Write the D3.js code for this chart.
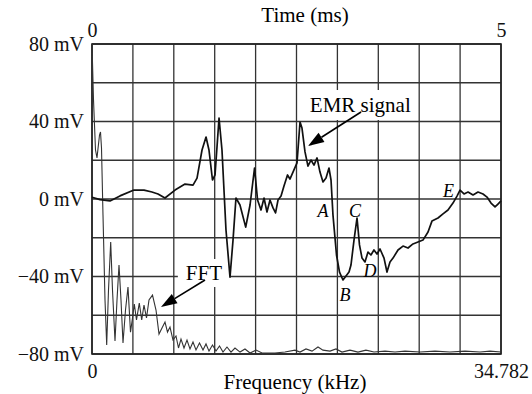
<!DOCTYPE html>
<html>
<head>
<meta charset="utf-8">
<script src="https://cdn.jsdelivr.net/npm/d3@7"></script>
<style>
body { margin: 0; background: #fff; }
svg { display: block; font-family: "Liberation Serif", "Times New Roman", serif; }
</style>
</head>
<body>
<svg id="chart" width="532" height="394"></svg>
<script>
"use strict";

// EMR signal: time (ms) and amplitude (mV)
const emrTime = [0, 0.098, 0.22, 0.342, 0.513, 0.636, 0.733, 0.807, 0.892, 1.015,
	1.137, 1.235, 1.284, 1.345, 1.394, 1.43, 1.473, 1.504, 1.553, 1.589,
	1.638, 1.687, 1.724, 1.76, 1.809, 1.879, 1.932, 1.987, 2.024, 2.066,
	2.103, 2.139, 2.176, 2.213, 2.244, 2.274, 2.311, 2.347, 2.39, 2.42,
	2.469, 2.506, 2.543, 2.567, 2.604, 2.64, 2.677, 2.714, 2.751, 2.787,
	2.824, 2.861, 2.897, 2.922, 2.946, 2.989, 3.026, 3.068, 3.105, 3.142,
	3.166, 3.203, 3.24, 3.27, 3.301, 3.337, 3.374, 3.41, 3.447, 3.484,
	3.521, 3.57, 3.606, 3.643, 3.68, 3.741, 3.802, 3.863, 3.924, 3.985,
	4.046, 4.108, 4.156, 4.23, 4.291, 4.352, 4.413, 4.462, 4.499, 4.548,
	4.597, 4.658, 4.719, 4.78, 4.829, 4.878, 4.927, 4.963, 5.0];
const emrMv = [0.9, -0.3, -1.0, 1.6, 4.6, 4.6, 3.6, 2.6, 0.5, 4.6,
	7.7, 7.2, 10.8, 25.3, 32.0, 25.3, 9.8, 12.4, 41.8, 25.3,
	-16.0, -40.3, -21.2, 0.5, -3.1, -14.5, -3.1, 16.0, -0.5, -5.7,
	0.5, -6.7, -0.5, -4.6, -7.2, -0.5, 1.5, 6.7, 12.4, 10.3,
	15.0, 18.6, 39.7, 36.6, 24.3, 17.0, 20.1, 17.5, 21.2, 13.9,
	8.8, 10.8, 16.0, 9.8, -8.3, -28.9, -37.7, -41.8, -39.7, -37.7,
	-34.1, -21.2, -9.8, -23.7, -30.5, -32.5, -27.4, -28.9, -26.3, -28.4,
	-25.8, -30.5, -37.7, -32.5, -30.5, -26.3, -24.3, -25.3, -23.2, -22.2,
	-21.2, -17.0, -11.4, -9.8, -7.7, -5.7, -2.1, 1.5, 4.6, 2.6,
	3.6, 2.1, 3.6, 2.6, 1.0, -2.1, -4.1, -2.6, -1.0];

// FFT spectrum: frequency (kHz) and amplitude on the same mV grid
const fftFreq = [0, 0.128, 0.298, 0.425, 0.638, 0.723, 0.808, 0.935, 1.106, 1.25,
	1.403, 1.59, 1.743, 1.956, 2.126, 2.296, 2.466, 2.636, 2.849, 3.061,
	3.274, 3.444, 3.597, 3.784, 4.022, 4.227, 4.422, 4.635, 4.847, 5.145,
	5.443, 5.698, 5.953, 6.208, 6.421, 6.633, 6.888, 7.143, 7.356, 7.569,
	7.824, 8.079, 8.334, 8.589, 8.844, 9.142, 9.439, 9.695, 9.95, 10.247,
	10.545, 10.843, 11.14, 11.48, 11.82, 12.16, 12.59, 13.01, 13.44, 13.95,
	14.46, 15.56, 16.41, 17.26, 17.69, 18.2, 18.71, 19.22, 19.64, 20.24,
	20.75, 21.26, 21.94, 22.62, 23.3, 23.98, 24.92, 25.77, 26.62, 27.89,
	29.17, 30.44, 31.72, 33.0, 33.85, 34.782];
const fftMv = [80.0, 51.1, 25.3, 21.2, 33.0, 34.6, 26.3, -8.3, -52.1, -75.4,
	-47.0, -22.2, -47.0, -73.3, -52.1, -34.1, -52.1, -74.3, -57.3, -45.4,
	-68.7, -61.4, -54.2, -62.4, -53.7, -62.4, -54.7, -61.4, -52.1, -49.6,
	-57.3, -69.7, -66.6, -63.5, -68.7, -66.1, -72.8, -70.7, -76.9, -72.3,
	-76.9, -72.8, -77.4, -73.8, -77.9, -74.3, -77.9, -74.8, -78.5, -75.4,
	-78.5, -75.9, -79.0, -76.4, -79.0, -76.9, -79.0, -77.4, -79.5, -78.0,
	-79.5, -79.5, -79.0, -78.0, -79.0, -77.4, -78.5, -76.4, -78.0, -78.5,
	-77.4, -79.0, -78.0, -79.0, -78.0, -79.0, -78.5, -79.0, -78.5, -79.0,
	-78.5, -79.0, -78.5, -79.0, -78.5, -79.0];

// grid and tick labels
const gridTime = [0, 0.5, 1, 1.5, 2, 2.5, 3, 3.5, 4, 4.5, 5];
const gridMv = [-80, -60, -40, -20, 0, 20, 40, 60, 80];
const mvLabels = [-80, -40, 0, 40, 80];
const timeLabels = [0, 5];
const freqLabels = [0, 34.782];

// marked points on the EMR trace
const pointNames = ["A", "B", "C", "D", "E"];
const pointTime = [2.824, 3.093, 3.215, 3.399, 4.358];
const pointMv = [-6.2, -49.5, -6.2, -37.2, 4.1];

var margin = { top: 44, right: 31, bottom: 40, left: 92 };
var width = 532 - margin.left - margin.right;
var height = 394 - margin.top - margin.bottom;

var svg = d3.select("#chart");
svg.append("rect").attr("width", 532).attr("height", 394).style("fill", "#fff");

var g = svg.append("g")
	.attr("transform", "translate(" + margin.left + "," + margin.top + ")");

var x = d3.scaleLinear().domain([0, 5]).range([0, width]);
var xf = d3.scaleLinear().domain([0, 34.782]).range([0, width]);
var y = d3.scaleLinear().domain([-80, 80]).range([height, 0]);

// grid
g.append("g")
	.selectAll("line")
	.data(gridTime)
	.enter()
	.append("line")
	.attr("x1", function(d) { return x(d); })
	.attr("x2", function(d) { return x(d); })
	.attr("y1", 0)
	.attr("y2", height)
	.style("stroke", "#333")
	.style("stroke-width", 1.3);

g.append("g")
	.selectAll("line")
	.data(gridMv)
	.enter()
	.append("line")
	.attr("x1", 0)
	.attr("x2", width)
	.attr("y1", function(d) { return y(d); })
	.attr("y2", function(d) { return y(d); })
	.style("stroke", "#333")
	.style("stroke-width", 1.3);

g.append("rect")
	.attr("width", width)
	.attr("height", height)
	.style("fill", "none")
	.style("stroke", "#222")
	.style("stroke-width", 1.6);

// axes, text only
function mvFormat(d) {
	return (d < 0 ? "\u2212" : "") + Math.abs(d) + " mV";
}

function styleAxis(sel) {
	sel.select(".domain").remove();
	sel.attr("font-family", null).attr("font-size", null);
	sel.selectAll("text").style("font-size", "20px").style("fill", "#111");
}

g.append("g")
	.call(d3.axisLeft(y).tickValues(mvLabels).tickSize(0).tickPadding(8).tickFormat(mvFormat))
	.call(styleAxis);

g.append("g")
	.call(d3.axisTop(x).tickValues(timeLabels).tickSize(0).tickPadding(7).tickFormat(function(d) { return d; }))
	.call(styleAxis);

g.append("g")
	.attr("transform", "translate(0," + height + ")")
	.call(d3.axisBottom(xf).tickValues(freqLabels).tickSize(0).tickPadding(10).tickFormat(function(d) { return d; }))
	.call(styleAxis);

g.append("text")
	.attr("x", 213)
	.attr("y", -22)
	.attr("text-anchor", "middle")
	.style("font-size", "21px")
	.text("Time (ms)");

g.append("text")
	.attr("x", 203)
	.attr("y", height + 35)
	.attr("text-anchor", "middle")
	.style("font-size", "21px")
	.text("Frequency (kHz)");

// labels with white boxes behind them
function boxedLabel(px, py, str, padX, padY) {
	var lab = g.append("g");
	var box = lab.append("rect").style("fill", "#fff");
	var t = lab.append("text")
		.attr("x", px)
		.attr("y", py)
		.attr("text-anchor", "middle")
		.style("font-size", "21px")
		.text(str);
	var bb = t.node().getBBox();
	box.attr("x", bb.x - padX)
		.attr("y", bb.y - padY)
		.attr("width", bb.width + 2 * padX)
		.attr("height", bb.height + 2 * padY);
}

boxedLabel(x(3.28), y(44.9), "EMR signal", 4, 3);
boxedLabel(xf(9.52), y(-41.8), "FFT", 8, 2);

// traces
var fftLine = d3.line()
	.x(function(d) { return xf(d[0]); })
	.y(function(d) { return y(d[1]); });

var emrLine = d3.line()
	.x(function(d) { return x(d[0]); })
	.y(function(d) { return y(d[1]); });

g.append("path")
	.datum(d3.zip(fftFreq, fftMv))
	.attr("d", fftLine)
	.style("fill", "none")
	.style("stroke", "#333")
	.style("stroke-width", 1.1);

g.append("path")
	.datum(d3.zip(emrTime, emrMv))
	.attr("d", emrLine)
	.style("fill", "none")
	.style("stroke", "#111")
	.style("stroke-width", 1.7)
	.style("stroke-linejoin", "round");

// arrows
function arrow(x1, y1, x2, y2) {
	var a = Math.atan2(y2 - y1, x2 - x1);
	var len = 16, half = 5.5;
	var bx = x2 - len * Math.cos(a), by = y2 - len * Math.sin(a);
	g.append("line")
		.attr("x1", x1).attr("y1", y1)
		.attr("x2", bx).attr("y2", by)
		.style("stroke", "#000")
		.style("stroke-width", 1.6);
	g.append("path")
		.attr("d", "M" + x2 + "," + y2 +
			"L" + (bx + half * Math.sin(a)) + "," + (by - half * Math.cos(a)) +
			"L" + (bx - half * Math.sin(a)) + "," + (by + half * Math.cos(a)) + "Z")
		.style("fill", "#000");
}

arrow(x(3.289), y(44.9), x(2.641), y(27.4));
arrow(xf(9.61), y(-41.8), xf(5.868), y(-55.7));

// point letters
g.append("g")
	.selectAll("text")
	.data(pointNames)
	.enter()
	.append("text")
	.attr("x", function(d, i) { return x(pointTime[i]); })
	.attr("y", function(d, i) { return y(pointMv[i]); })
	.attr("dy", "0.35em")
	.attr("text-anchor", "middle")
	.style("font-size", "18px")
	.style("font-style", "italic")
	.text(function(d) { return d; });
</script>
</body>
</html>
